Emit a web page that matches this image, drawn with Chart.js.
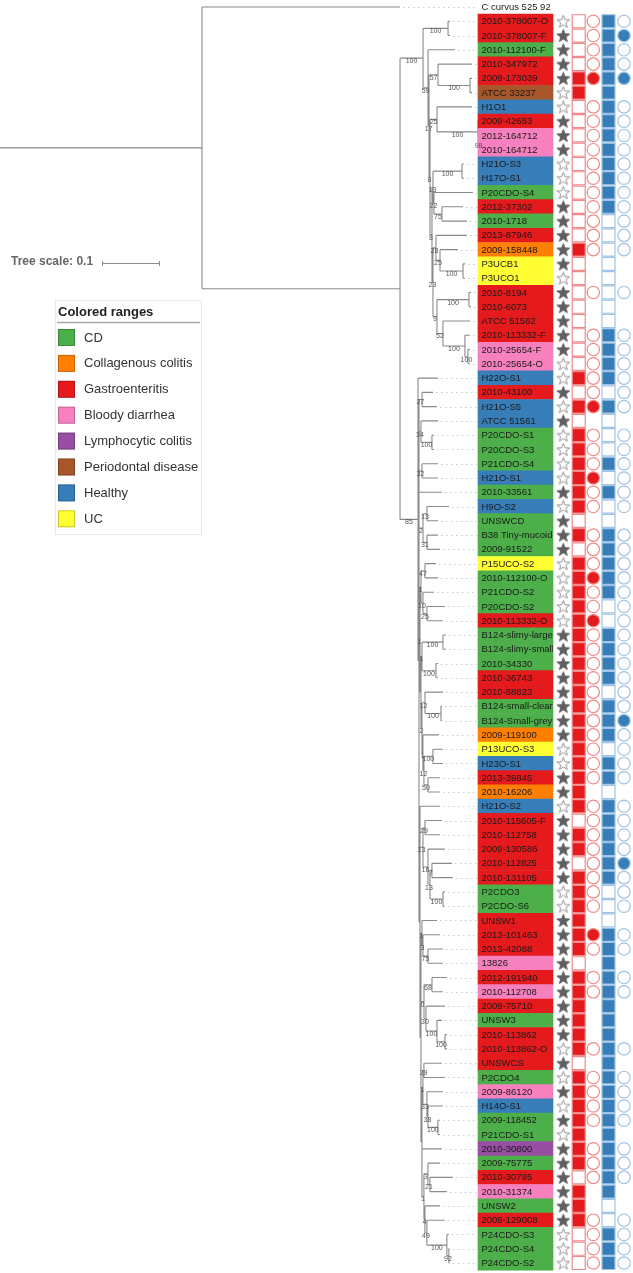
<!DOCTYPE html>
<html>
<head>
<meta charset="utf-8">
<script src="https://cdn.jsdelivr.net/npm/chart.js@4.4.1/dist/chart.umd.min.js"></script>
<style>
  html, body { margin: 0; padding: 0; background: #fff; overflow: hidden; }
  #wrap { width: 633px; height: 1273px; position: relative; }
</style>
</head>
<body>
<div id="wrap"><canvas id="tree"></canvas></div>
<script>
const _ = null;

// row order of the tips, top to bottom
const strains = [
  'C curvus 525 92',
  '2010-378007-O', '2010-378007-F', '2010-112100-F', '2010-347972', '2009-173039', 'ATCC 33237', 'H1O1', '2009-42653', '2012-164712', '2010-164712',
  'H21O-S3', 'H17O-S1', 'P20CDO-S4', '2012-37302', '2010-1718', '2013-87946', '2009-158448', 'P3UCB1', 'P3UCO1', '2010-8194',
  '2010-6073', 'ATCC 51562', '2010-113332-F', '2010-25654-F', '2010-25654-O', 'H22O-S1', '2010-43100', 'H21O-S5', 'ATCC 51561', 'P20CDO-S1',
  'P20CDO-S3', 'P21CDO-S4', 'H21O-S1', '2010-33561', 'H9O-S2', 'UNSWCD', 'B38 Tiny-mucoid', '2009-91522', 'P15UCO-S2', '2010-112100-O',
  'P21CDO-S2', 'P20CDO-S2', '2010-113332-O', 'B124-slimy-large', 'B124-slimy-small', '2010-34330', '2010-36743', '2010-88823', 'B124-small-clear', 'B124-Small-grey',
  '2009-119100', 'P13UCO-S3', 'H23O-S1', '2013-39845', '2010-16206', 'H21O-S2', '2010-115605-F', '2010-112758', '2009-130586', '2010-112825',
  '2010-131105', 'P2CDO3', 'P2CDO-S6', 'UNSW1', '2013-101463', '2013-42088', '13826', '2012-191940', '2010-112708', '2009-75710',
  'UNSW3', '2010-113862', '2010-113862-O', 'UNSWCS', 'P2CDO4', '2009-86120', 'H14O-S1', '2009-118452', 'P21CDO-S1', '2010-30800',
  '2009-75775', '2010-30795', '2010-31374', 'UNSW2', '2009-129008', 'P24CDO-S3', 'P24CDO-S4', 'P24CDO-S2'
];

// colored range (disease) of each row
const disease = [
  _,
  'GE', 'GE', 'CD', 'GE', 'GE', 'PD', 'H', 'GE', 'BD', 'BD',
  'H', 'H', 'CD', 'GE', 'CD', 'GE', 'CC', 'UC', 'UC', 'GE',
  'GE', 'GE', 'GE', 'BD', 'BD', 'H', 'GE', 'H', 'H', 'CD',
  'CD', 'CD', 'H', 'CD', 'H', 'CD', 'CD', 'CD', 'UC', 'CD',
  'CD', 'CD', 'GE', 'CD', 'CD', 'CD', 'GE', 'GE', 'CD', 'CD',
  'CC', 'UC', 'H', 'GE', 'CC', 'H', 'GE', 'GE', 'GE', 'GE',
  'GE', 'CD', 'CD', 'GE', 'GE', 'GE', 'BD', 'GE', 'BD', 'GE',
  'CD', 'GE', 'GE', 'GE', 'CD', 'BD', 'H', 'CD', 'CD', 'LC',
  'CD', 'GE', 'BD', 'CD', 'GE', 'CD', 'CD', 'CD'
];

const legendCodes = ['CD', 'CC', 'GE', 'BD', 'LC', 'PD', 'H', 'UC'];
const legendNames = ['CD', 'Collagenous colitis', 'Gastroenteritis', 'Bloody diarrhea', 'Lymphocytic colitis', 'Periodontal disease', 'Healthy', 'UC'];
const legendColors = ['#4daf4a', '#ff7f00', '#e41a1c', '#f781bf', '#984ea3', '#a65628', '#377eb8', '#ffff33'];

// binary columns: 1 = filled, 0 = empty outline, null = nothing
const star = [
  _,
  0, 1, 1, 1, 1, 0, 0, 1, 1, 1,
  0, 0, 0, 1, 1, 1, 1, 1, 0, 1,
  1, 1, 1, 1, 0, 0, 1, 0, 1, 0,
  0, 0, 0, 1, 0, 1, 1, 1, 0, 0,
  0, 0, 0, 1, 1, 1, 1, 1, 1, 1,
  1, 0, 0, 1, 1, 0, 1, 1, 1, 1,
  1, 0, 0, 1, 1, 1, 1, 1, 1, 1,
  1, 1, 0, 1, 0, 1, 0, 1, 0, 1,
  1, 1, 1, 1, 1, 0, 0, 0
];
const redSquare = [
  _,
  0, 0, 0, 0, 1, 1, 0, 0, 0, 0,
  0, 0, 0, 0, 0, 0, 1, 0, 0, 0,
  0, 0, 0, 0, 0, 1, 0, 1, 0, 1,
  1, 1, 1, 1, 1, 0, 1, 0, 1, 1,
  1, 1, 1, 1, 1, 1, 1, 1, 1, 1,
  1, 1, 1, 1, 1, 1, 0, 1, 1, 0,
  1, 1, 1, 1, 1, 1, 0, 1, 1, 1,
  1, 1, 1, 0, 1, 1, 1, 1, 1, 1,
  1, 0, 1, 1, 1, 0, 0, 0
];
const redCircle = [
  _,
  0, 0, 0, 0, 1, _, 0, 0, 0, 0,
  0, 0, 0, 0, 0, 0, 0, _, _, 0,
  _, _, 0, 0, 0, 0, 0, 1, _, 0,
  0, 0, 1, 0, 0, _, 0, 0, 0, 1,
  0, 0, 1, 0, 0, 0, 0, 0, 0, 0,
  0, 0, 0, 0, _, 0, 0, 0, 0, 0,
  0, 0, 0, _, 1, 0, _, 0, 0, _,
  _, _, 0, _, 0, 0, 0, 0, _, 0,
  0, 0, _, _, 0, 0, 0, 0
];
const blueSquare = [
  _,
  1, 1, 1, 1, 1, 1, 1, 1, 1, 1,
  1, 1, 1, 1, 0, 0, 0, 0, 0, 0,
  0, 0, 1, 1, 1, 1, 0, 1, 0, 0,
  0, 1, 0, 1, 0, 0, 1, 1, 1, 1,
  1, 0, 0, 1, 1, 1, 1, 0, 1, 1,
  1, 0, 1, 1, 0, 1, 1, 1, 1, 1,
  1, 0, 0, 0, 1, 1, 1, 1, 1, 1,
  1, 1, 1, 1, 1, 1, 1, 1, 1, 1,
  1, 1, 1, 0, 0, 1, 1, 1
];
const blueCircle = [
  _,
  0, 1, 0, 0, 1, _, 0, 0, 0, 0,
  0, 0, 0, 0, 0, 0, 0, _, _, 0,
  _, _, 0, 0, 0, 0, 0, 0, _, 0,
  0, 0, 0, 0, 0, _, 0, 0, 0, 0,
  0, 0, 0, 0, 0, 0, 0, 0, 0, 1,
  0, 0, 0, 0, _, 0, 0, 0, 0, 1,
  0, 0, 0, _, 0, 0, _, 0, 0, _,
  _, _, 0, _, 0, 0, 0, 0, _, 0,
  0, 0, _, _, 0, 0, 0, 0
];

// tree with branch lengths (substitutions/site) and bootstrap labels
const newick = [
  '(C curvus 525 92:0.3414,(',
  '(',
  '(2010-378007-O:0.0034,2010-378007-F:0.0034)100:0.0431,',
  '(2010-112100-F:0.0466,',
  '(',
  '(2010-347972:0.0586,(2009-173039:0.0034,ATCC 33237:0.0034)100:0.0552)57:0.0155,',
  '(',
  '(H1O1:0.0603,(2009-42653:0.0034,(2012-164712:0.0034,2010-164712:0.0034)98:0.0017)100:0.0707)25:0.0121,',
  '(',
  '((H21O-S3:0.0034,H17O-S1:0.0034)100:0.05,(P20CDO-S4:0.0672,(2012-37302:0.0362,2010-1718:0.0431)75:0.0138)22:0.0017)13:0.0017,',
  '(',
  '(2013-87946:0.0534,(2009-158448:0.031,(P3UCB1:0.0034,P3UCO1:0.0034)100:0.0397)25:0.0069)28:0.0052,',
  '((2010-8194:0.0034,2010-6073:0.0034)100:0.0552,(ATCC 51562:0.0466,(2010-113332-F:0.0086,(2010-25654-F:0.0034,2010-25654-O:0.0034)100:0.0052)100:0.0379)52:0.0103)9:0.0069',
  ')23:0.0017)8:0.0034)8:0.0017)17:0.0017)59:0.0086)100:0.0397,',
  '(H22O-S1:0.0345,',
  '(',
  '(2010-43100:0.019,H21O-S5:0.0259)27:0.0052,',
  '(ATCC 51561:0.0293,(P20CDO-S1:0.0034,P20CDO-S3:0.0034)100:0.019)34:0.0034,',
  '(P21CDO-S4:0.0276,H21O-S1:0.0276)32:0.0052,',
  '2010-33561:0.0397,',
  '((H9O-S2:0.0379,UNSWCD:0.019)13:0.0069,(B38 Tiny-mucoid:0.019,2009-91522:0.0224)31:0.0069)2:0.0069,',
  '(',
  '((P15UCO-S2:0.019,2010-112100-O:0.0224)47:0.0069,(P21CDO-S2:0.019,(P20CDO-S2:0.031,2010-113332-O:0.0276)25:0.0069)10:0.0034)1:0.0017,',
  '(',
  '((B124-slimy-large:0.0052,B124-slimy-small:0.0052)100:0.0362,(2010-34330:0.0034,2010-36743:0.0034)100:0.0241)1:0.0017,',
  '(',
  '(2010-88823:0.031,(B124-small-clear:0.0017,B124-Small-grey:0.0017)100:0.0276)12:0.0052,',
  '(2009-119100:0.0276,((P13UCO-S3:0.0172,H23O-S1:0.0172)100:0.0155,(2013-39845:0.0207,2010-16206:0.0207)50:0.0069)12:0.0017)1:0.0017',
  ')2:0.0017',
  '):0.0017',
  ')1:0.0017,',
  '(H21O-S2:0.0345,',
  '((2010-115605-F:0.0293,2010-112758:0.0259)29:0.0034,(2009-130586:0.0293,((2010-112825:0.0345,2010-131105:0.0362)7:0.0034,(P2CDO3:0.0034,P2CDO-S6:0.0034)100:0.0224)13:0.0034)16:0.0086)13:0.0052,',
  '(',
  '(UNSW1:0.0259,(2013-101463:0.0293,(2013-42088:0.0259,13826:0.0259)75:0.0086)3:0.0017)1:0.0017,',
  '((2012-191940:0.0259,2010-112708:0.019)68:0.0138,(2009-75710:0.0328,(UNSW3:0.0086,(2010-113862:0.0034,2010-113862-O:0.0034)100:0.0138)100:0.019)30:0.0034)0:0.0052,',
  '(',
  '((UNSWCS:0.031,P2CDO4:0.0362)29:0.0017,(2009-86120:0.0276,(H14O-S1:0.0259,(2009-118452:0.0034,P21CDO-S1:0.0034)100:0.0172)38:0.0017)33:0.0069)1:0.0017,',
  '2010-30800:0.0345,',
  '((2009-75775:0.0207,(2010-30795:0.0397,2010-31374:0.0293)21:0.0034)3:0.0069,(UNSW2:0.0259,(2009-129008:0.031,(P24CDO-S3:0.0034,(P24CDO-S4:0.0017,P24CDO-S2:0.0017)92:0.0034)100:0.0345)49:0.0034)4:0.0017)1:0.0034',
  '):0.0017',
  '):0.0017',
  '):0.0017',
  '):0.0017',
  ')85:0.031',
  '):0.3414):0.3483;'
].join('');

const treeScale = 0.1;

// layout (pixels)
const W = 633, H = 1273;
const pxPerUnit = 580;
const labelLeft = 478, labelRight = 553;
const cols = { star: 563.3, redSquare: 578.7, redCircle: 593.3, blueSquare: 608.5, blueCircle: 624 };

function parseNewick(s) {
  let i = 0;
  function node() {
    const n = { children: [], name: '', len: 0 };
    if (s[i] === '(') {
      i++;
      n.children.push(node());
      while (s[i] === ',') { i++; n.children.push(node()); }
      i++;
    }
    let tok = '';
    while (i < s.length && !',():;'.includes(s[i])) tok += s[i++];
    n.name = tok.trim();
    if (s[i] === ':') {
      i++;
      let num = '';
      while (i < s.length && !',();'.includes(s[i])) num += s[i++];
      n.len = parseFloat(num);
    }
    return n;
  }
  return node();
}

const root = parseNewick(newick);
const leaves = [], internals = [];

function layout(n, parentDepth, parent) {
  n.parent = parent;
  n.depth = parentDepth + n.len;
  if (!n.children.length) {
    n.y = strains.indexOf(n.name);
    if (n.y < 0) throw new Error('tip not in list: ' + n.name);
    leaves.push(n);
  } else {
    n.children.forEach(c => layout(c, n.depth, n));
    n.y = (n.children[0].y + n.children[n.children.length - 1].y) / 2;
    internals.push(n);
  }
}
layout(root, 0, null);

const branchPoints = [];
function addSegment(x1, y1, x2, y2) {
  branchPoints.push({ x: x1, y: y1 }, { x: x2, y: y2 }, { x: null, y: null });
}
[...internals, ...leaves].forEach(n => {
  addSegment(n.parent ? n.parent.depth : 0, n.y, n.depth, n.y);
  if (n.children.length) {
    addSegment(n.depth, n.children[0].y, n.depth, n.children[n.children.length - 1].y);
  }
});

function pick(arr, want, colX) {
  const out = [];
  arr.forEach((v, i) => { if (v === want) out.push({ x: colX, y: i }); });
  return out;
}

function makeStar(fill, stroke) {
  const c = document.createElement('canvas');
  c.width = 15; c.height = 15;
  const g = c.getContext('2d');
  g.beginPath();
  for (let k = 0; k < 10; k++) {
    const r = k % 2 ? 2.8 : 6.7;
    const a = -Math.PI / 2 + k * Math.PI / 5;
    g.lineTo(7.5 + r * Math.cos(a), 8.1 + r * Math.sin(a));
  }
  g.closePath();
  g.fillStyle = fill;
  g.fill();
  g.lineWidth = 1;
  g.strokeStyle = stroke;
  g.stroke();
  return c;
}
const starFull = makeStar('#5f5f5f', '#5f5f5f');
const starEmpty = makeStar('#ffffff', '#949494');

const colorOf = code => legendColors[legendCodes.indexOf(code)];
const boxRows = disease.map((d, i) => d ? { y: i, x: [labelLeft, labelRight] } : null).filter(Boolean);
const boxColors = boxRows.map(r => colorOf(disease[r.y]));

function symbolSet(arr, want, colX, style, radius, bg, border) {
  return {
    type: 'scatter', xAxisID: 'xcol', yAxisID: 'y',
    data: pick(arr, want, colX),
    pointStyle: style, pointRadius: radius,
    backgroundColor: bg, borderColor: border, borderWidth: 1.2
  };
}

const treeText = {
  id: 'treeText',
  beforeDatasetsDraw(chart) {
    const { ctx, scales: { x, y, xcol } } = chart;
    ctx.save();
    ctx.strokeStyle = '#c8c8c8';
    ctx.lineWidth = 1;
    ctx.setLineDash([1.5, 3.5]);
    leaves.forEach(n => {
      const py = Math.round(y.getPixelForValue(n.y)) + 0.5;
      ctx.beginPath();
      ctx.moveTo(x.getPixelForValue(n.depth) + 3, py);
      ctx.lineTo(xcol.getPixelForValue(labelLeft) - 1, py);
      ctx.stroke();
    });
    ctx.restore();
  },
  afterDatasetsDraw(chart) {
    const { ctx, scales: { x, y, xcol } } = chart;
    ctx.save();

    // tip labels
    ctx.beginPath();
    ctx.rect(xcol.getPixelForValue(labelLeft), 0, labelRight - labelLeft, H);
    ctx.save();
    ctx.clip();
    ctx.font = '9.5px "Liberation Sans", Arial, sans-serif';
    ctx.textAlign = 'left';
    ctx.textBaseline = 'middle';
    ctx.fillStyle = '#1a1a1a';
    strains.forEach((s, i) => ctx.fillText(s, xcol.getPixelForValue(labelLeft + 3.5), y.getPixelForValue(i) + 0.5));
    ctx.restore();

    // bootstrap values
    ctx.font = '7px "Liberation Sans", Arial, sans-serif';
    ctx.textAlign = 'center';
    ctx.textBaseline = 'middle';
    ctx.fillStyle = '#555555';
    internals.forEach(n => {
      if (!n.name || !n.parent) return;
      const px = (x.getPixelForValue(n.parent.depth) + x.getPixelForValue(n.depth)) / 2;
      ctx.fillText(n.name, px, y.getPixelForValue(n.y) + 3);
    });

    // tree scale
    ctx.font = 'bold 12px "Liberation Sans", Arial, sans-serif';
    ctx.textAlign = 'left';
    ctx.fillStyle = '#666666';
    ctx.fillText('Tree scale: ' + treeScale, 11, 262);
    const s0 = x.getPixelForValue(102 / pxPerUnit), s1 = x.getPixelForValue(102 / pxPerUnit + treeScale);
    ctx.strokeStyle = '#8c8c8c';
    ctx.lineWidth = 1;
    ctx.beginPath();
    ctx.moveTo(s0, 263.5); ctx.lineTo(s1, 263.5);
    ctx.moveTo(s0 + 0.5, 261); ctx.lineTo(s0 + 0.5, 266);
    ctx.moveTo(s1 - 0.5, 261); ctx.lineTo(s1 - 0.5, 266);
    ctx.stroke();

    // colored ranges legend
    const lx = 55, ly = 300;
    ctx.strokeStyle = '#e8e8e8';
    ctx.strokeRect(lx + 0.5, ly + 0.5, 146, 234);
    ctx.font = 'bold 13px "Liberation Sans", Arial, sans-serif';
    ctx.fillStyle = '#222222';
    ctx.fillText('Colored ranges', 58, 312);
    ctx.strokeStyle = '#a8a8a8';
    ctx.lineWidth = 1.5;
    ctx.beginPath(); ctx.moveTo(57, 322.5); ctx.lineTo(200, 322.5); ctx.stroke();
    ctx.font = '13px "Liberation Sans", Arial, sans-serif';
    ctx.lineWidth = 1;
    legendNames.forEach((name, k) => {
      const yc = 337.5 + k * 25.9;
      ctx.fillStyle = legendColors[k];
      ctx.fillRect(58, yc - 8.5, 17, 17);
      ctx.strokeStyle = 'rgba(0,0,0,0.22)';
      ctx.strokeRect(58.5, yc - 8, 16, 16);
      ctx.fillStyle = '#333333';
      ctx.fillText(name, 84, yc + 0.5);
    });
    ctx.restore();
  }
};

new Chart(document.getElementById('tree'), {
  type: 'scatter',
  data: {
    datasets: [
      symbolSet(star, 1, cols.star, starFull, 6, '#5f5f5f', '#5f5f5f'),
      symbolSet(star, 0, cols.star, starEmpty, 6, '#fff', '#949494'),
      symbolSet(redSquare, 1, cols.redSquare, 'rect', 9.2, '#e41a1c', '#f08a8a'),
      symbolSet(redSquare, 0, cols.redSquare, 'rect', 9.2, '#ffffff', '#f08a8a'),
      symbolSet(redCircle, 1, cols.redCircle, 'circle', 6.2, '#e41a1c', '#f08a8a'),
      symbolSet(redCircle, 0, cols.redCircle, 'circle', 6.2, '#ffffff', '#f08a8a'),
      symbolSet(blueSquare, 1, cols.blueSquare, 'rect', 9.2, '#377eb8', '#9fc3e6'),
      symbolSet(blueSquare, 0, cols.blueSquare, 'rect', 9.2, '#ffffff', '#9fc3e6'),
      symbolSet(blueCircle, 1, cols.blueCircle, 'circle', 6.2, '#377eb8', '#9fc3e6'),
      symbolSet(blueCircle, 0, cols.blueCircle, 'circle', 6.2, '#ffffff', '#9fc3e6'),
      {
        type: 'bar', indexAxis: 'y', xAxisID: 'xcol', yAxisID: 'y',
        data: boxRows,
        backgroundColor: boxColors,
        barPercentage: 1, categoryPercentage: 1, grouped: false
      },
      {
        type: 'scatter', xAxisID: 'x', yAxisID: 'y',
        data: branchPoints,
        showLine: true, spanGaps: false, pointRadius: 0,
        borderColor: '#8a8a8a', borderWidth: 1.1
      }
    ]
  },
  options: {
    responsive: true,
    maintainAspectRatio: false,
    animation: false,
    events: [],
    devicePixelRatio: 1,
    layout: { padding: 0, autoPadding: false },
    plugins: { legend: { display: false }, tooltip: { enabled: false } },
    scales: {
      x: { type: 'linear', display: false, min: 0, max: W / pxPerUnit, offset: false },
      xcol: { type: 'linear', axis: 'x', display: false, min: 0, max: W, offset: false },
      y: { type: 'linear', display: false, reverse: true, min: -0.49, max: 88.7, offset: false }
    }
  },
  plugins: [treeText]
});
</script>
</body>
</html>
